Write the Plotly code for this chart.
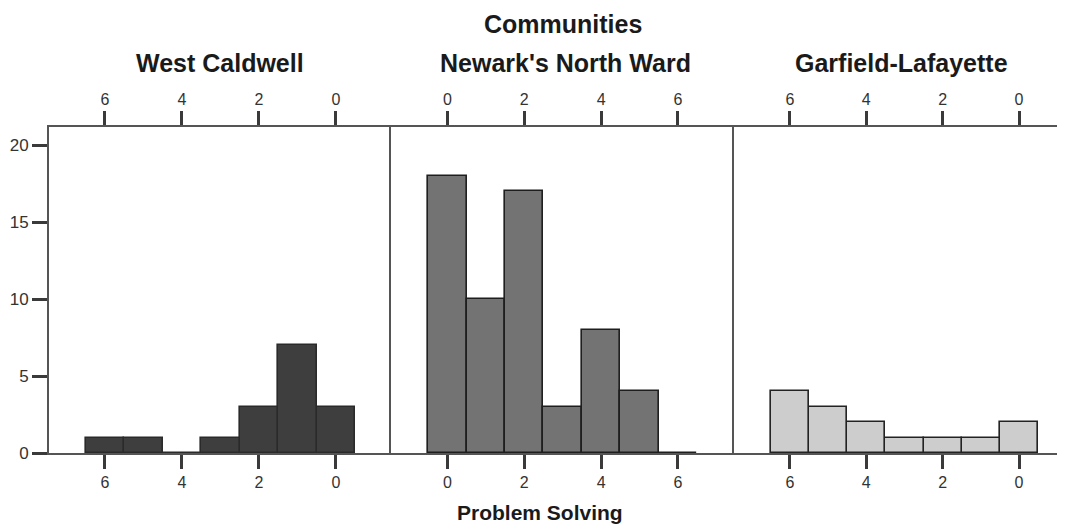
import plotly.graph_objects as go

# ---- data ----
scores = [0, 1, 2, 3, 4, 5, 6]
west_caldwell = [3, 7, 3, 1, 0, 1, 1]
newark_north_ward = [18, 10, 17, 3, 8, 4, 0]
garfield_lafayette = [2, 1, 1, 1, 2, 3, 4]
panel_titles = ["West Caldwell", "Newark's North Ward", "Garfield-Lafayette"]
x_ticks = [0, 2, 4, 6]
y_ticks = [0, 5, 10, 15, 20]

FONT = "Liberation Sans, Arial, Helvetica, sans-serif"
AXC = "#3a3a3a"

fig = go.Figure()

series = [west_caldwell, newark_north_ward, garfield_lafayette]
fills = ["#3e3e3e", "#737373", "#cdcdcd"]
lines = ["#2a2a2a", "#1e1e1e", "#222222"]
for i, (vals, fc, lc) in enumerate(zip(series, fills, lines)):
    xa = "x" if i == 0 else f"x{i+1}"
    ya = "y" if i == 0 else f"y{i+1}"
    fig.add_trace(go.Bar(x=scores, y=vals, width=1, marker=dict(color=fc, line=dict(color=lc, width=1.6)),
                         xaxis=xa, yaxis=ya, showlegend=False, hoverinfo="skip"))
    # invisible trace on the top (mirror) axis so it gets drawn
    fig.add_trace(go.Scatter(x=scores, y=vals, mode="markers", marker=dict(opacity=0),
                             xaxis=f"x{i+4}", yaxis=ya, showlegend=False, hoverinfo="skip"))

# page body has an 8px margin, so the figure is sized/offset to compensate
W, H = 1057, 519
ML, MR, MT, MB = 41, 0, 119, 74
PH = H - MT - MB
domains = [[0, 0.3366], [0.3366, 0.6742], [0.6742, 1.0]]
ranges = [[7.45, -1.43], [-1.47, 7.46], [7.467, -1.205]]
yr = [0, 21.17]

tickfont = dict(family=FONT, size=16, color="#333333")
layout = dict(
    width=W, height=H,
    margin=dict(l=ML, r=MR, t=MT, b=MB),
    paper_bgcolor="white", plot_bgcolor="white",
    bargap=0,
    font=dict(family=FONT),
)
for i in range(3):
    n = "" if i == 0 else str(i + 1)
    ya = "y" + n
    common = dict(range=ranges[i], tickvals=x_ticks, ticks="outside", ticklen=14, tickwidth=2.5,
                  tickcolor=AXC, showgrid=False, zeroline=False, showline=True, linecolor="#555555",
                  linewidth=2, tickfont=tickfont, fixedrange=True)
    layout["xaxis" + n] = dict(domain=domains[i], anchor=ya, side="bottom", **common)
    layout[f"xaxis{i+4}"] = dict(overlaying="x" + n, anchor=ya, side="top", **common)
    ydict = dict(range=yr, showgrid=False, zeroline=False, showline=True, linecolor="#555555",
                 linewidth=2, fixedrange=True, anchor="x" + n)
    if i == 0:
        ydict.update(tickvals=y_ticks, ticks="outside", ticklen=15, tickwidth=2.5, tickcolor=AXC,
                     tickfont=dict(family=FONT, size=17, color="#333333"))
    else:
        ydict.update(showticklabels=False, ticks="")
    layout["yaxis" + n] = ydict

fig.update_layout(**layout)

# positions below are in window pixels (minus the 8px body offset)
def py(y_px):
    return 1 + (MT + 8 - y_px) / PH

def px(x_px):
    return (x_px - 8 - ML) / (W - ML - MR)

title_font = dict(family=FONT, size=25, color="#1a1a1a", weight="bold")
fig.add_annotation(text="Communities", xref="paper", yref="paper", x=px(563), y=py(24),
                   showarrow=False, xanchor="center", yanchor="middle", font=title_font)
for cx, t in zip([220, 565, 901], panel_titles):
    fig.add_annotation(text=t, xref="paper", yref="paper", x=px(cx), y=py(63),
                       showarrow=False, xanchor="center", yanchor="middle", font=title_font)
fig.add_annotation(text="Problem Solving", xref="paper", yref="paper", x=px(540), y=py(512),
                   showarrow=False, xanchor="center", yanchor="middle",
                   font=dict(family=FONT, size=21, color="#1a1a1a", weight="bold"))

fig.write_html("out.html")
